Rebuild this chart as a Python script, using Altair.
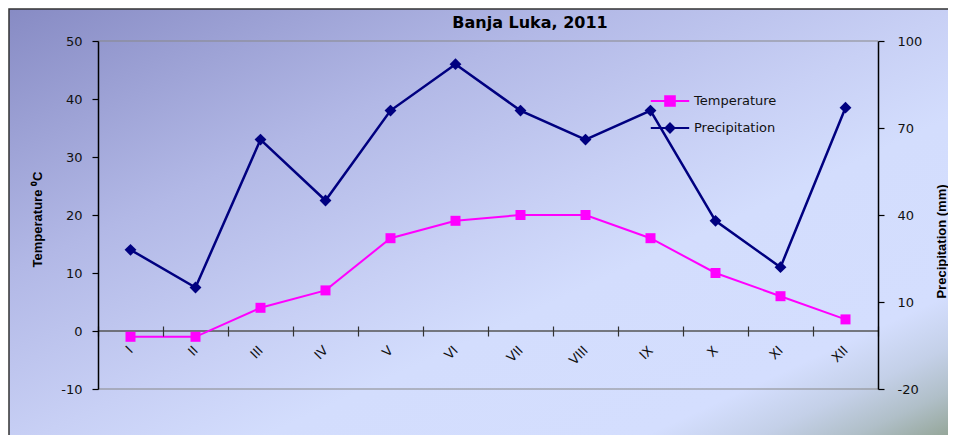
import altair as alt
import pandas as pd

months = ["I", "II", "III", "IV", "V", "VI", "VII", "VIII", "IX", "X", "XI", "XII"]
temperature = [-1, -1, 4, 7, 16, 19, 20, 20, 16, 10, 6, 2]
precipitation = [28, 15, 66, 45, 76, 92, 76, 66, 76, 38, 22, 77]
series_names = ["Temperature", "Precipitation"]
series_colors = ["#ff00ff", "#000080"]
legend_shapes = [
    "M-3.2,0H3.2M-0.8,-0.8H0.8V0.8H-0.8Z",
    "M-3.2,0H3.2M0,-0.75L0.75,0L0,0.75L-0.75,0Z",
]
temp_ticks = [-10, 0, 10, 20, 30, 40, 50]
prec_ticks = [-20, 10, 40, 70, 100]
frame_lines = [-10, 50]

df = pd.DataFrame({"month": months, "Temperature": temperature, "Precipitation": precipitation})

W, H = 780, 348
temp_scale = alt.Scale(domain=[-10, 50], nice=False, zero=False)

x_axis = alt.Axis(
    orient="bottom", offset=-63, domain=False, ticks=True, tickSize=10, tickColor="#333",
    tickWidth=1.2, tickBand="extent", labelAngle=-45, labelAlign="right", labelBaseline="middle",
    labelPadding=12, labelFont="DejaVu Sans", labelFontSize=13, labelColor="#111",
    grid=False, title=None, zindex=1,
)
x_enc = alt.X("month:N", scale=alt.Scale(type="band", domain=months, paddingInner=0, paddingOuter=0), axis=x_axis)

left_axis = alt.Axis(
    orient="left", values=temp_ticks, labelExpr="'' + datum.value", domain=True, domainColor="black",
    domainWidth=1.5, ticks=True, tickColor="black", tickSize=6, tickWidth=1.2, labelFont="DejaVu Sans",
    labelFontSize=13, labelColor="#111", labelPadding=10, grid=False,
    title="Temperature  ⁰C", titleFont="Liberation Sans", titleFontSize=13, titleFontWeight="bold",
    titleColor="black", titleAngle=270, titleX=-61, titleY=178, titleAlign="center",
    titleBaseline="middle", zindex=1,
)
right_axis = alt.Axis(
    orient="right", values=prec_ticks, labelExpr="'' + datum.value", domain=True, domainColor="black",
    domainWidth=1.5, ticks=True, tickColor="black", tickSize=6, tickWidth=1.2, labelFont="DejaVu Sans",
    labelFontSize=13, labelColor="#111", labelPadding=13, grid=False,
    title="Precipitation  (mm)", titleFont="Liberation Sans", titleFontSize=13, titleFontWeight="bold",
    titleColor="black", titleAngle=270, titleX=63, titleY=200, titleAlign="center",
    titleBaseline="middle", zindex=1,
)

y_temp = alt.Y("Temperature:Q", scale=temp_scale, axis=left_axis)
y_prec = alt.Y("Precipitation:Q", scale=alt.Scale(domain=[-20, 100], nice=False, zero=False), axis=right_axis)

gradient = alt.LinearGradient(
    gradient="linear", x1=0, y1=0, x2=1, y2=1,
    stops=[
        alt.GradientStop(offset=0.0, color="#878bc4"),
        alt.GradientStop(offset=0.3, color="#b2b8e6"),
        alt.GradientStop(offset=0.5, color="#c8d0f5"),
        alt.GradientStop(offset=0.62, color="#d3ddfd"),
        alt.GradientStop(offset=0.82, color="#d4defe"),
        alt.GradientStop(offset=0.88, color="#c4d0e8"),
        alt.GradientStop(offset=0.93, color="#b0bfc8"),
        alt.GradientStop(offset=1.0, color="#8a9c86"),
    ],
)

bg = alt.Chart(alt.Data(values=[{"a": 1}])).mark_rect(
    fill=gradient, stroke="#333", strokeWidth=1.5
).encode(
    x=alt.value(-89), x2=alt.value(W + 80), y=alt.value(-32), y2=alt.value(H + 60)
)

frame = alt.Chart(pd.DataFrame({"v": frame_lines})).mark_rule(color="#888", strokeWidth=1.2).encode(
    y=alt.Y("v:Q", scale=temp_scale)
)
zero_rule = alt.Chart(alt.Data(values=[{"a": 1}])).mark_rule(color="#555", strokeWidth=1.5).encode(
    y=alt.datum(0, scale=temp_scale)
)

temp_line = alt.Chart().mark_line(color=series_colors[0], strokeWidth=2).encode(x=x_enc, y=y_temp)
temp_pts = alt.Chart().mark_point(shape="square", filled=True, size=100, color=series_colors[0], opacity=1).encode(x=x_enc, y=y_temp)

leg = alt.Legend(title=None, orient="none", legendX=565, legendY=53,
                 symbolSize=144, symbolStrokeWidth=2, symbolOpacity=1,
                 labelFont="DejaVu Sans", labelFontSize=13, labelColor="#111",
                 labelOffset=17, rowPadding=9, padding=0)

legend_layer = alt.Chart().transform_fold(
    series_names, as_=["series", "value"]
).mark_point(opacity=0, size=144, strokeWidth=2).encode(
    x=x_enc,
    y=alt.value(0),
    color=alt.Color("series:N", scale=alt.Scale(domain=series_names, range=series_colors), legend=leg),
    fill=alt.Fill("series:N", scale=alt.Scale(domain=series_names, range=series_colors), legend=leg),
    shape=alt.Shape("series:N", scale=alt.Scale(domain=series_names, range=legend_shapes), legend=leg),
)

left = alt.layer(frame, zero_rule, temp_line, temp_pts, legend_layer)

prec_line = alt.Chart().mark_line(color=series_colors[1], strokeWidth=2.5).encode(x=x_enc, y=y_prec)
prec_pts = alt.Chart().mark_point(shape="diamond", filled=True, size=140, color=series_colors[1], opacity=1).encode(x=x_enc, y=y_prec)
right = alt.layer(prec_line, prec_pts)

chart = alt.layer(bg, left, right, data=df).resolve_scale(y="independent").properties(
    width=W, height=H,
    title=alt.TitleParams("Banja Luka, 2011", font="DejaVu Sans", fontSize=16, fontWeight="bold",
                          color="black", anchor="middle", frame="group", dx=42, offset=-31,
                          baseline="middle"),
    autosize=alt.AutoSizeParams(type="none"),
    padding={"left": 90, "top": 33, "right": 70, "bottom": 46},
).configure(background="white").configure_view(stroke=None)

chart.save("out.html", embed_options={"renderer": "svg", "actions": False})
